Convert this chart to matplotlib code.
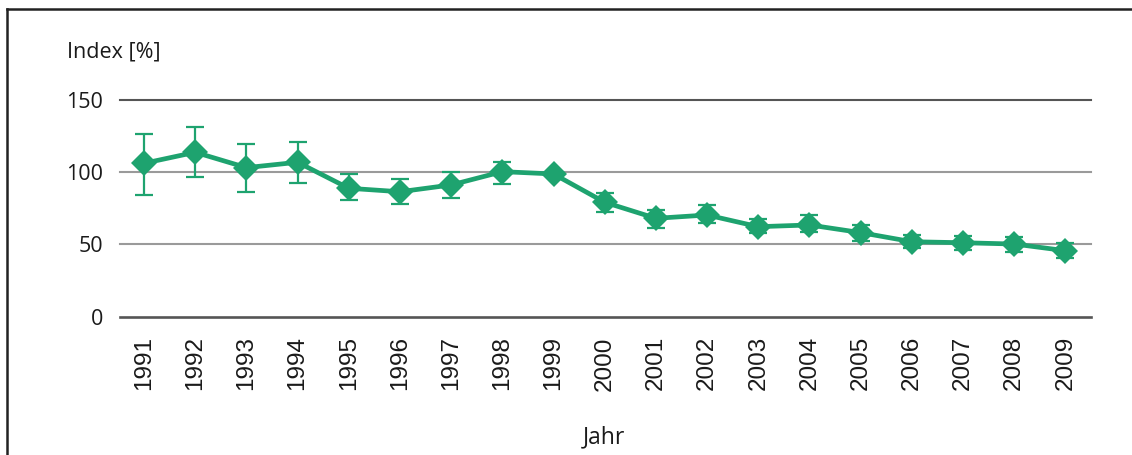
import matplotlib
matplotlib.use("Agg")
import matplotlib.pyplot as plt
from matplotlib.lines import Line2D
import numpy as np

# Index values per year with lower / upper bounds of the error bars
years = [1991, 1992, 1993, 1994, 1995, 1996, 1997, 1998, 1999, 2000,
         2001, 2002, 2003, 2004, 2005, 2006, 2007, 2008, 2009]
index = [106.2, 113.8, 103.2, 106.9, 88.9, 86.5, 91.2, 100.4, 98.8, 79.2,
         68.1, 70.4, 62.3, 63.5, 58.2, 51.9, 51.2, 50.3, 45.7]
upper = [126.5, 131.1, 119.8, 121.0, 98.8, 95.1, 100.2, 107.3, 98.8, 85.8,
         73.9, 77.3, 67.4, 70.6, 63.5, 56.6, 55.9, 55.4, 50.8]
lower = [84.0, 96.5, 86.5, 92.4, 80.8, 77.8, 82.0, 91.9, 98.8, 72.5,
         61.2, 64.7, 57.7, 58.8, 52.6, 47.4, 46.2, 45.0, 40.4]
y_ticks = [0, 50, 100, 150]

GREEN = "#1ea36f"
TEXT = "#1a1a1a"
W, H = 1132, 455

fig = plt.figure(figsize=(W / 100, H / 100), dpi=100)
ax = fig.add_axes([120 / W, 1 - 316.7 / H, (1091 - 120) / W, 216.7 / H])

x = np.arange(len(years))
vals = np.array(index)
yerr = np.vstack([vals - np.array(lower), np.array(upper) - vals])

# horizontal reference lines
for v in y_ticks:
    dark = v in (0, 150)
    ax.axhline(v, color="#555555" if dark else "#9a9a9a",
               lw=1.9 if v == 0 else 1.5, clip_on=False, zorder=1)

ax.errorbar(x, vals, yerr=yerr, fmt="none", ecolor=GREEN, elinewidth=1.6,
            capsize=6.5, capthick=1.6, zorder=2, clip_on=False)
ax.plot(x, vals, color=GREEN, lw=3.4, marker="D", markersize=13,
        markeredgewidth=0, zorder=3, clip_on=False)

ax.set_xlim(-0.47, 18.5)
ax.set_ylim(0, 150)
for s in ax.spines.values():
    s.set_visible(False)

ax.set_yticks(y_ticks)
ax.set_yticklabels([str(v) for v in y_ticks], fontsize=15.5,
                   fontfamily="Open Sans", color=TEXT)
ax.tick_params(axis="y", length=0, pad=12)

ax.set_xticks(x)
ax.set_xticklabels([str(y) for y in years], rotation=90, fontsize=17.5,
                   fontfamily="Liberation Sans", color=TEXT)
ax.tick_params(axis="x", length=0, pad=14)

fig.text(67 / W, 1 - 52 / H, "Index [%]", fontsize=15.5, fontfamily="Open Sans",
         color=TEXT, ha="left", va="center")
fig.text(604 / W, 1 - 437 / H, "Jahr", fontsize=16.5, fontfamily="Open Sans",
         color=TEXT, ha="center", va="center")

# frame lines along the top and left edge
fig.add_artist(Line2D([7 / W, 7 / W], [0, 1 - 9 / H], transform=fig.transFigure,
                      color="#222222", lw=1.8))
fig.add_artist(Line2D([7 / W, 1], [1 - 9 / H, 1 - 9 / H], transform=fig.transFigure,
                      color="#222222", lw=1.8))

fig.savefig("out.png", dpi=100)
